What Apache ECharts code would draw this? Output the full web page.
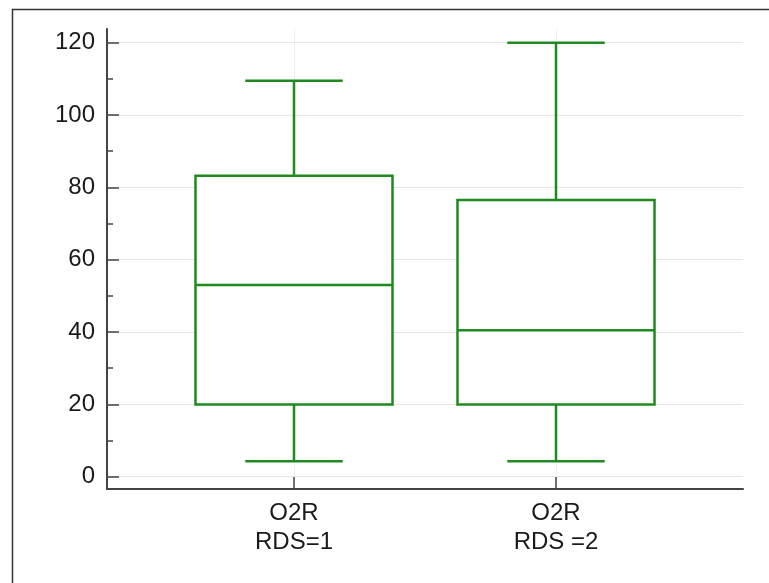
<!DOCTYPE html>
<html>
<head>
<meta charset="utf-8">
<script src="https://cdn.jsdelivr.net/npm/echarts@6/dist/echarts.min.js"></script>
<style>
  html, body { margin: 0; padding: 0; background: #ffffff; }
  #chart { width: 769px; height: 583px; }
</style>
</head>
<body>
<div id="chart"></div>
<script>
// Group labels (two lines each) and their positions on the x scale
const groupLabels = ['O2R\nRDS=1', 'O2R\nRDS =2'];
const groupPositions = [1, 2];

// Box statistics per group: [min, Q1, median, Q3, max]
const groupMin = [4.3, 4.3];
const groupQ1 = [20, 20];
const groupMedian = [53, 40.5];
const groupQ3 = [83.2, 76.5];
const groupMax = [109.5, 120];

// Tick values on the value axis
const majorTicks = [0, 20, 40, 60, 80, 100, 120];
const minorTicks = [10, 30, 50, 70, 90, 110];

const GREEN = '#1f8a1f';
const AXIS = '#444444';
const TEXT = '#1a1a1a';
const FONT = 'Liberation Sans, Arial, sans-serif';

const boxData = groupPositions.map((x, i) => [
  x, groupMin[i], groupQ1[i], groupMedian[i], groupQ3[i], groupMax[i]
]);

function renderBox(params, api) {
  const x = api.value(0);
  const lo = api.coord([x, api.value(1)]);
  const q1 = api.coord([x, api.value(2)]);
  const med = api.coord([x, api.value(3)]);
  const q3 = api.coord([x, api.value(4)]);
  const hi = api.coord([x, api.value(5)]);
  const boxW = api.size([0.752, 0])[0];
  const capW = api.size([0.372, 0])[0];
  const cx = q1[0];
  const lineStyle = { stroke: GREEN, lineWidth: 2.5, fill: null };
  const seg = (x1, y1, x2, y2) => ({
    type: 'line',
    shape: { x1: x1, y1: y1, x2: x2, y2: y2 },
    style: lineStyle
  });
  return {
    type: 'group',
    children: [
      seg(cx, q1[1], cx, lo[1]),
      seg(cx, q3[1], cx, hi[1]),
      seg(cx - capW / 2, lo[1], cx + capW / 2, lo[1]),
      seg(cx - capW / 2, hi[1], cx + capW / 2, hi[1]),
      {
        type: 'rect',
        shape: { x: cx - boxW / 2, y: q3[1], width: boxW, height: q1[1] - q3[1] },
        style: { stroke: GREEN, lineWidth: 2.5, fill: '#ffffff' }
      },
      seg(cx - boxW / 2, med[1], cx + boxW / 2, med[1])
    ]
  };
}

const chart = echarts.init(document.getElementById('chart'), null, { renderer: 'canvas' });

chart.setOption({
  animation: false,
  backgroundColor: '#ffffff',
  graphic: [{
    type: 'rect',
    left: 10, top: 7,
    shape: { width: 800, height: 620 },
    style: { stroke: '#333333', lineWidth: 1.5, fill: null },
    silent: true,
    z: 100
  }],
  grid: { left: 107, right: 26, top: 29, bottom: 94, containLabel: false },
  xAxis: {
    type: 'value',
    min: 0.2863,
    max: 2.7137,
    axisLine: { show: true, onZero: false, lineStyle: { color: AXIS, width: 2 } },
    axisTick: {
      show: true, inside: true, length: 12,
      customValues: groupPositions,
      lineStyle: { color: AXIS, width: 1.5 }
    },
    axisLabel: {
      show: true,
      customValues: groupPositions,
      formatter: (v) => groupLabels[groupPositions.indexOf(Math.round(v))] || '',
      color: TEXT, fontFamily: FONT, fontSize: 24, lineHeight: 29, margin: 10
    },
    splitLine: { show: true, lineStyle: { color: '#ececec', width: 1 } }
  },
  yAxis: [{
    type: 'value',
    min: -3.4,
    max: 123.8,
    axisLine: { show: true, onZero: false, lineStyle: { color: AXIS, width: 2 } },
    axisTick: {
      show: true, inside: true, length: 12,
      customValues: majorTicks,
      lineStyle: { color: AXIS, width: 1.5 }
    },
    axisLabel: {
      show: true,
      customValues: majorTicks,
      color: TEXT, fontFamily: FONT, fontSize: 24, margin: 12
    },
    splitLine: { show: true, lineStyle: { color: '#e6e6e6', width: 1 } }
  }, {
    type: 'value',
    position: 'left',
    min: -3.4,
    max: 123.8,
    axisLine: { show: false, onZero: false },
    axisTick: {
      show: true, inside: true, length: 6,
      customValues: minorTicks,
      lineStyle: { color: AXIS, width: 1.5 }
    },
    axisLabel: { show: false },
    splitLine: { show: false }
  }],
  series: [{
    type: 'custom',
    renderItem: renderBox,
    encode: { x: 0, y: [1, 2, 3, 4, 5] },
    data: boxData,
    clip: false,
    z: 5
  }]
});
</script>
</body>
</html>
